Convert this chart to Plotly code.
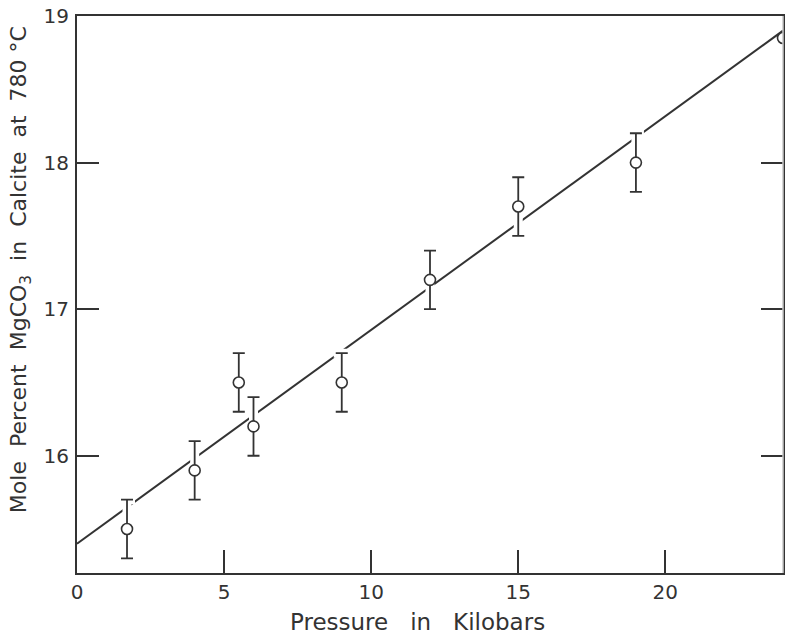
import plotly.graph_objects as go

# Data
pressure = [1.7, 4.0, 5.5, 6.0, 9.0, 12.0, 15.0, 19.0, 24.0]
mgco3 = [15.5, 15.9, 16.5, 16.2, 16.5, 17.2, 17.7, 18.0, 18.85]
err = [0.2, 0.2, 0.2, 0.2, 0.2, 0.2, 0.2, 0.2, 0.0]

fit_x = [0.0, 24.0]
fit_y = [15.40, 18.90]

x_ticks = [0, 5, 10, 15, 20]
y_ticks = [16, 17, 18, 19]

ink = "#333333"
font_family = "DejaVu Sans"

fig = go.Figure()

# fit line
fig.add_trace(go.Scatter(x=fit_x, y=fit_y, mode="lines",
                         line=dict(color=ink, width=2),
                         showlegend=False, hoverinfo="skip"))
# white halo behind error bars -> gaps in the line
fig.add_trace(go.Scatter(x=pressure[:-1], y=mgco3[:-1], mode="markers",
                         marker=dict(size=1, color="rgba(0,0,0,0)"),
                         error_y=dict(type="data", array=err[:-1], color="white",
                                      thickness=9, width=8),
                         showlegend=False, hoverinfo="skip"))
# data points with error bars
fig.add_trace(go.Scatter(x=pressure[:-1], y=mgco3[:-1], mode="markers",
                         marker=dict(size=11, color="white",
                                     line=dict(color=ink, width=1.6)),
                         error_y=dict(type="data", array=err[:-1], color=ink,
                                      thickness=1.8, width=6),
                         showlegend=False))
# point at the cropped right edge
fig.add_trace(go.Scatter(x=pressure[-1:], y=mgco3[-1:], mode="markers",
                         marker=dict(size=11, color="white",
                                     line=dict(color=ink, width=1.6)),
                         showlegend=False))

fig.update_layout(
    width=785, height=639,
    margin=dict(l=77, r=0, t=16, b=66),
    paper_bgcolor="white", plot_bgcolor="white",
    font=dict(family=font_family, color=ink, size=20),
    shapes=[dict(type="line", xref="paper", yref="paper", x0=1, x1=1, y0=0, y1=1,
                 line=dict(color="#c8c8c8", width=1.5))],
    annotations=[
        dict(text="Mole&nbsp;&nbsp;Percent&nbsp;&nbsp;MgCO<sub>3</sub>&nbsp;&nbsp;in&nbsp;&nbsp;Calcite&nbsp;&nbsp;at&nbsp;&nbsp;780&nbsp;°C",
             textangle=-90, xref="paper", yref="paper",
             x=-57 / 708, y=(573 - 270) / 557, xanchor="center", yanchor="middle",
             showarrow=False, font=dict(size=22, family=font_family, color=ink)),
        dict(text="Pressure&nbsp;&nbsp;&nbsp;in&nbsp;&nbsp;&nbsp;Kilobars",
             xref="paper", yref="paper",
             x=(418 - 77) / 708, y=(573 - 622) / 557, xanchor="center", yanchor="middle",
             showarrow=False, font=dict(size=23, family=font_family, color=ink)),
    ],
)
fig.update_xaxes(
    range=[0, 24.0], tickvals=x_ticks, ticktext=[str(v) for v in x_ticks],
    ticks="inside", ticklen=23, tickwidth=2, tickcolor=ink,
    showline=True, linecolor=ink, linewidth=2, mirror=True,
    showgrid=False, zeroline=False,
    tickfont=dict(size=20, family=font_family, color=ink),
)
fig.update_yaxes(
    range=[15.2, 19.0], tickvals=y_ticks, ticktext=[str(v) for v in y_ticks],
    ticks="inside", ticklen=22, tickwidth=2, tickcolor=ink,
    showline=True, linecolor=ink, linewidth=2, mirror="ticks",
    showgrid=False, zeroline=False, ticklabelstandoff=2,
    tickfont=dict(size=20, family=font_family, color=ink),
)

fig.write_html("out.html")
